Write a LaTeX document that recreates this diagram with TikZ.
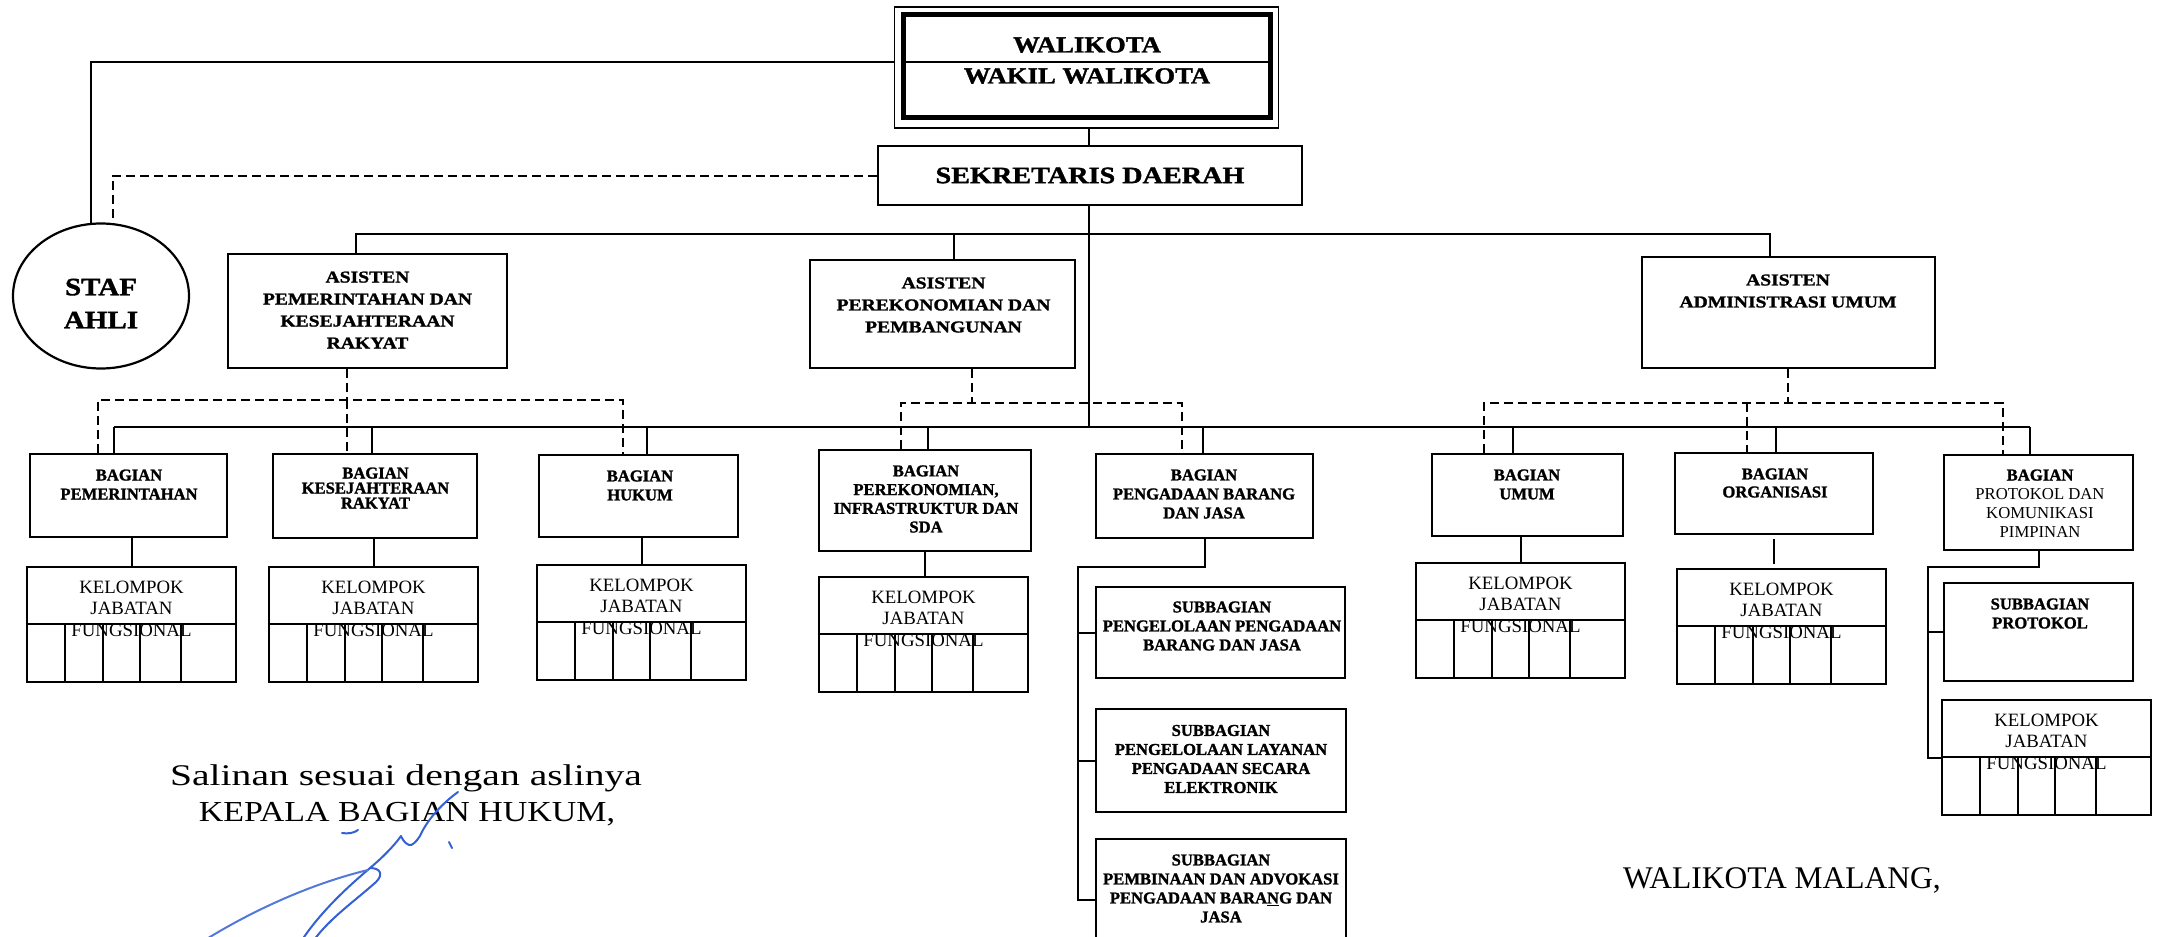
\documentclass[tikz,border=0pt]{standalone}
\usepackage{fontspec}
\setmainfont[BoldFeatures={FakeBold=1.4}]{Liberation Serif}
\newfontfamily\fWide[FakeStretch=1.16,BoldFeatures={FakeBold=1.4}]{Liberation Serif}
\newfontfamily\fSek[FakeStretch=1.2,BoldFeatures={FakeBold=1.4}]{Liberation Serif}
\newfontfamily\fAs[FakeStretch=1.18,BoldFeatures={FakeBold=1.4}]{Liberation Serif}
\usetikzlibrary{shapes.geometric,calc}
\definecolor{sigblue}{RGB}{52,96,214}
\tikzset{
  ln/.style={line width=2pt},
  dsh/.style={line width=2pt, dash pattern=on 9pt off 5pt},
  box/.style={draw, line width=2.6pt, inner sep=0pt},
  kbox/.style={box, minimum width=209pt, minimum height=115pt},
  ktext/.style={align=center, inner sep=0pt, font=\fontsize{18.8}{21.5}\selectfont},
  btext/.style={align=center, inner sep=0pt, font=\bfseries\fontsize{16.6}{19}\selectfont},
  atext/.style={align=center, inner sep=0pt, font=\fAs\bfseries\fontsize{16.6}{22}\selectfont},
  sig/.style={draw=sigblue, line width=2pt, line cap=round, line join=round},
}
\newcommand\kjfgroup[3]{%
  \node[kbox] (#1) at (#2+104.5,#3+57.5) {};
  \draw[ln] ($(#1.north west)+(0,58)$) -- ($(#1.north east)+(0,58)$);
  \foreach \dd in {39,77,114.5,155}
    \draw[ln] ($(#1.north west)+(\dd,58)$) -- ($(#1.south west)+(\dd,0)$);
  \node[ktext] (#1t) at ($(#1.north)+(0,43)$) {KELOMPOK\\JABATAN\\FUNGSIONAL};
}
\begin{document}
\begin{tikzpicture}[x=1pt,y=-1pt]
\clip (0,0) rectangle (2161,937);
\fill[white] (0,0) rectangle (2161,937);

% WALIKOTA
\node[draw, line width=1.8pt, inner sep=0pt, minimum width=384pt, minimum height=121pt] (wk) at (1086.5,67.8) {};
\draw[line width=4.8pt] ($(wk.north west)+(10.2,7.7)$) rectangle ($(wk.south east)+(-8.8,-11.5)$);
\draw[ln] ($(wk.north west)+(10.2,55.4)$) -- ($(wk.north east)+(-8.8,55.4)$);
\node[inner sep=0pt, font=\fWide\bfseries\fontsize{23}{28}\selectfont] (wk1) at (1087,45) {WALIKOTA};
\node[inner sep=0pt, font=\fWide\bfseries\fontsize{23}{28}\selectfont] (wk2) at (1087,76) {WAKIL WALIKOTA};

% SEKRETARIS
\node[box, minimum width=424pt, minimum height=59pt, font=\fSek\bfseries\fontsize{23.5}{28}\selectfont] (sk) at (1090,175.5) {SEKRETARIS DAERAH};

% STAF AHLI
\node[draw, ellipse, line width=2.2pt, inner sep=0pt, minimum width=176pt, minimum height=145pt] (st) at (101,296) {};
\node[align=center, inner sep=0pt, font=\fWide\bfseries\fontsize{25}{33}\selectfont] (stt) at (101,303.5) {STAF\\AHLI};
\coordinate (wkd) at ($(wk.north west)+(0,55.4)$);
\draw[ln] (wkd) -| (st.98);
\draw[dsh] (sk.west) -| (st.81);

% trunk
\coordinate (tr) at (1089,427);
\draw[ln] (tr |- wk.south) -- (tr |- sk.north);
\draw[ln] (tr |- sk.south) -- (tr);

% ASISTEN
\node[box, minimum width=279pt, minimum height=114pt] (a1) at (367.5,311) {};
\node[box, minimum width=265pt, minimum height=108pt] (a2) at (942.5,314) {};
\node[box, minimum width=293pt, minimum height=111pt] (a3) at (1788.5,312.5) {};
\node[atext] (a1t) at (367.5,310) {ASISTEN\\PEMERINTAHAN DAN\\KESEJAHTERAAN\\RAKYAT};
\node[atext] (a2t) at (943.5,305) {ASISTEN\\PEREKONOMIAN DAN\\PEMBANGUNAN};
\node[atext] (a3t) at (1788,291) {ASISTEN\\ADMINISTRASI UMUM};
\coordinate (ab1) at (356,234);
\coordinate (ab2) at (954,234);
\coordinate (ab3) at (1770,234);
\draw[ln] (ab1 |- a1.north) -- (ab1) -- (ab3) -- (ab3 |- a3.north);
\draw[ln] (ab2) -- (ab2 |- a2.north);

% BAGIAN boxes
\node[box, minimum width=197pt, minimum height=83pt] (b1) at (128.5,495.5) {};
\node[box, minimum width=204pt, minimum height=84pt] (b2) at (375,496) {};
\node[box, minimum width=199pt, minimum height=82pt] (b3) at (638.5,496) {};
\node[box, minimum width=212pt, minimum height=101pt] (b4) at (925,500.5) {};
\node[box, minimum width=217pt, minimum height=84pt] (b5) at (1204.5,496) {};
\node[box, minimum width=191pt, minimum height=82pt] (b6) at (1527.5,495) {};
\node[box, minimum width=198pt, minimum height=81pt] (b7) at (1774,493.5) {};
\node[box, minimum width=189pt, minimum height=95pt] (b8) at (2038.5,502.5) {};
\node[btext] (b1t) at (129,484.5) {BAGIAN\\PEMERINTAHAN};
\node[btext, font=\bfseries\fontsize{16.6}{15}\selectfont] (b2t) at (375.5,488) {BAGIAN\\KESEJAHTERAAN\\RAKYAT};
\node[btext] (b3t) at (640,485.5) {BAGIAN\\HUKUM};
\node[btext, font=\bfseries\fontsize{16.6}{18.7}\selectfont] (b4t) at (926,499) {BAGIAN\\PEREKONOMIAN,\\INFRASTRUKTUR DAN\\SDA};
\node[btext] (b5t) at (1204,494) {BAGIAN\\PENGADAAN BARANG\\DAN JASA};
\node[btext] (b6t) at (1527,484.5) {BAGIAN\\UMUM};
\node[btext, font=\bfseries\fontsize{16.6}{18}\selectfont] (b7t) at (1775,483) {BAGIAN\\ORGANISASI};
\node[align=center, inner sep=0pt, font=\fontsize{16.7}{19}\selectfont] (b8t) at (2040,503.5) {\textbf{BAGIAN}\\PROTOKOL DAN\\KOMUNIKASI\\PIMPINAN};

% main bus
\coordinate (d1) at (114,427);
\coordinate (d2) at (372,427);
\coordinate (d3) at (647,427);
\coordinate (d4) at (928,427);
\coordinate (d5) at (1203,427);
\coordinate (d6) at (1513,427);
\coordinate (d7) at (1776,427);
\coordinate (d8) at (2030,427);
\draw[ln] (d1) -- (d8);
\foreach \i in {1,...,8} \draw[ln] (d\i) -- (d\i |- b\i.north);

% dashed coordination lines
\coordinate (g1) at (347,400);
\coordinate (g1l) at (98,400);
\coordinate (g1r) at (623,400);
\draw[dsh] (g1 |- a1.south) -- (g1);
\draw[dsh] (g1l |- b1.north) -- (g1l) -- (g1r) -- (g1r |- b3.north);
\draw[dsh] (g1) -- (g1 |- b2.north);
\coordinate (g2) at (972,403);
\coordinate (g2l) at (901,403);
\coordinate (g2r) at (1182,403);
\draw[dsh] (g2 |- a2.south) -- (g2);
\draw[dsh] (g2l |- b4.north) -- (g2l) -- (g2r) -- (g2r |- b5.north);
\coordinate (g3) at (1788,403);
\coordinate (g3l) at (1484,403);
\coordinate (g3m) at (1747,403);
\coordinate (g3r) at (2003,403);
\draw[dsh] (g3 |- a3.south) -- (g3);
\draw[dsh] (g3l |- b6.north) -- (g3l) -- (g3r) -- (g3r |- b8.north);
\draw[dsh] (g3m) -- (g3m |- b7.north);

% KJF groups
\kjfgroup{k1}{27}{567}
\kjfgroup{k2}{269}{567}
\kjfgroup{k3}{537}{565}
\kjfgroup{k4}{819}{577}
\kjfgroup{k6}{1416}{563}
\kjfgroup{k7}{1677}{569}
\kjfgroup{k8}{1942}{700}
\draw[ln] (k1.north) -- (k1.north |- b1.south);
\draw[ln] (k2.north) -- (k2.north |- b2.south);
\draw[ln] (k3.north) -- (k3.north |- b3.south);
\draw[ln] (b4.south) -- (b4.south |- k4.north);
\draw[ln] (k6.north) -- (k6.north |- b6.south);
\draw[ln, shorten <=4pt, shorten >=4pt] (b7.south) -- (b7.south |- k7.north);

% SUBBAGIAN of Pengadaan
\node[box, minimum width=249pt, minimum height=91pt] (s1) at (1220.5,632.5) {};
\node[box, minimum width=250pt, minimum height=103pt] (s2) at (1221,760.5) {};
\node[box, minimum width=250pt, minimum height=121pt] (s3) at (1221,899.5) {};
\node[btext] (s1t) at (1222,626) {SUBBAGIAN\\PENGELOLAAN PENGADAAN\\BARANG DAN JASA};
\node[btext] (s2t) at (1221,759) {SUBBAGIAN\\PENGELOLAAN LAYANAN\\PENGADAAN SECARA\\ELEKTRONIK};
\node[btext] (s3t) at (1221,888.5) {SUBBAGIAN\\PEMBINAAN DAN ADVOKASI\\PENGADAAN BARA\underline{N}G DAN\\JASA};
\coordinate (sp5) at (1078,567);
\draw[ln] (b5.south) |- (sp5) |- (s3.west);
\draw[ln] (sp5 |- s1.west) -- (s1.west);
\draw[ln] (sp5 |- s2.west) -- (s2.west);

% SUBBAGIAN PROTOKOL
\node[box, minimum width=189pt, minimum height=98pt] (sbp) at (2038.5,632) {};
\node[btext] (sbpt) at (2040,613.5) {SUBBAGIAN\\PROTOKOL};
\coordinate (pp) at (1928,567);
\draw[ln] (b8.south) |- (pp) |- (k8.west);
\draw[ln] (pp |- sbp.west) -- (sbp.west);

% bottom texts
\node[anchor=base, inner sep=0pt, font=\fontsize{30}{36}\selectfont] (sal) at (406,785) {\scalebox{1.32}[1]{Salinan sesuai dengan aslinya}};
\node[anchor=base, inner sep=0pt, font=\fontsize{29}{36}\selectfont] (kep) at (407,821.7) {\scalebox{1.17}[1]{KEPALA BAGIAN HUKUM,}};
\node[anchor=base, inner sep=0pt, font=\fontsize{31.5}{36}\selectfont] (wm) at (1782,888) {WALIKOTA MALANG,};

% signature
\draw[sig] (458,792) .. controls (440,805) and (426,822) .. (420,836) .. controls (416,842) and (412,846) .. (409,845) .. controls (404,843) and (402,838) .. (401,836) .. controls (394,846) and (382,858) .. (370,868);
\draw[sig] (370,868) .. controls (380,868) and (384,874) .. (376,882) .. controls (356,900) and (330,918) .. (314,940);
\draw[sig] (370,868) .. controls (350,885) and (322,910) .. (302,940);
\draw[sig, draw=sigblue!85!white] (368,870) .. controls (318,882) and (260,906) .. (205,940);
\draw[sig] (342,833) .. controls (348,834) and (354,833) .. (358,830);
\draw[sig] (449,842) -- (452,848);
\end{tikzpicture}
\end{document}
